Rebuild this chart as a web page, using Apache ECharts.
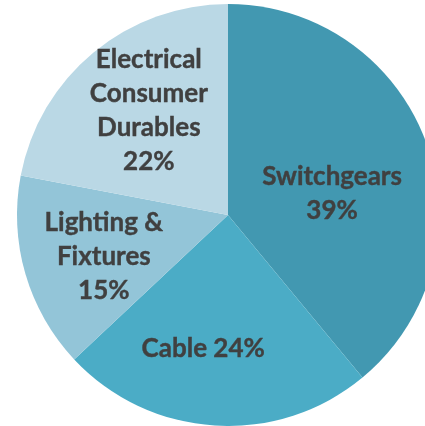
<!DOCTYPE html>
<html>
<head>
<meta charset="utf-8">
<script src="https://cdn.jsdelivr.net/npm/echarts@6/dist/echarts.min.js"></script>
<style>html,body{margin:0;padding:0;background:#fff;}#c{width:425px;height:426px;}</style>
</head>
<body>
<div id="c"></div>
<script>
const categories = ['Switchgears', 'Cable', 'Lighting &\nFixtures', 'Electrical\nConsumer\nDurables'];
const labelTexts = ['Switchgears\n39%', 'Cable 24%', 'Lighting &\nFixtures\n15%', 'Electrical\nConsumer\nDurables\n22%'];
const values = [39, 24, 15, 22];
const colors = ['#4298B1', '#4BACC6', '#93C5D8', '#BAD8E5'];
const labelShift = [[2, 15], [-18, 25], [-20, 11], [-10, -21]];

const chart = echarts.init(document.getElementById('c'));
chart.setOption({
  animation: false,
  series: [{
    type: 'pie',
    center: [228, 215],
    radius: 211,
    startAngle: 90,
    clockwise: true,
    data: categories.map((c, i) => ({
      name: c, value: values[i],
      itemStyle: { color: colors[i] },
      label: { formatter: labelTexts[i] }
    })),
    label: {
      position: 'inside',
      color: '#404040',
      fontFamily: 'Lato',
      fontWeight: 'bold',
      fontSize: 26,
      lineHeight: 34,
      align: 'center',
      textBorderColor: '#404040',
      textBorderWidth: 0.4
    },
    labelLine: { show: false },
    labelLayout: function (p) {
      const s = labelShift[p.dataIndex];
      return { dx: s[0], dy: s[1] };
    },
    itemStyle: { borderWidth: 0 },
    emphasis: { disabled: true }
  }]
});
</script>
</body>
</html>
